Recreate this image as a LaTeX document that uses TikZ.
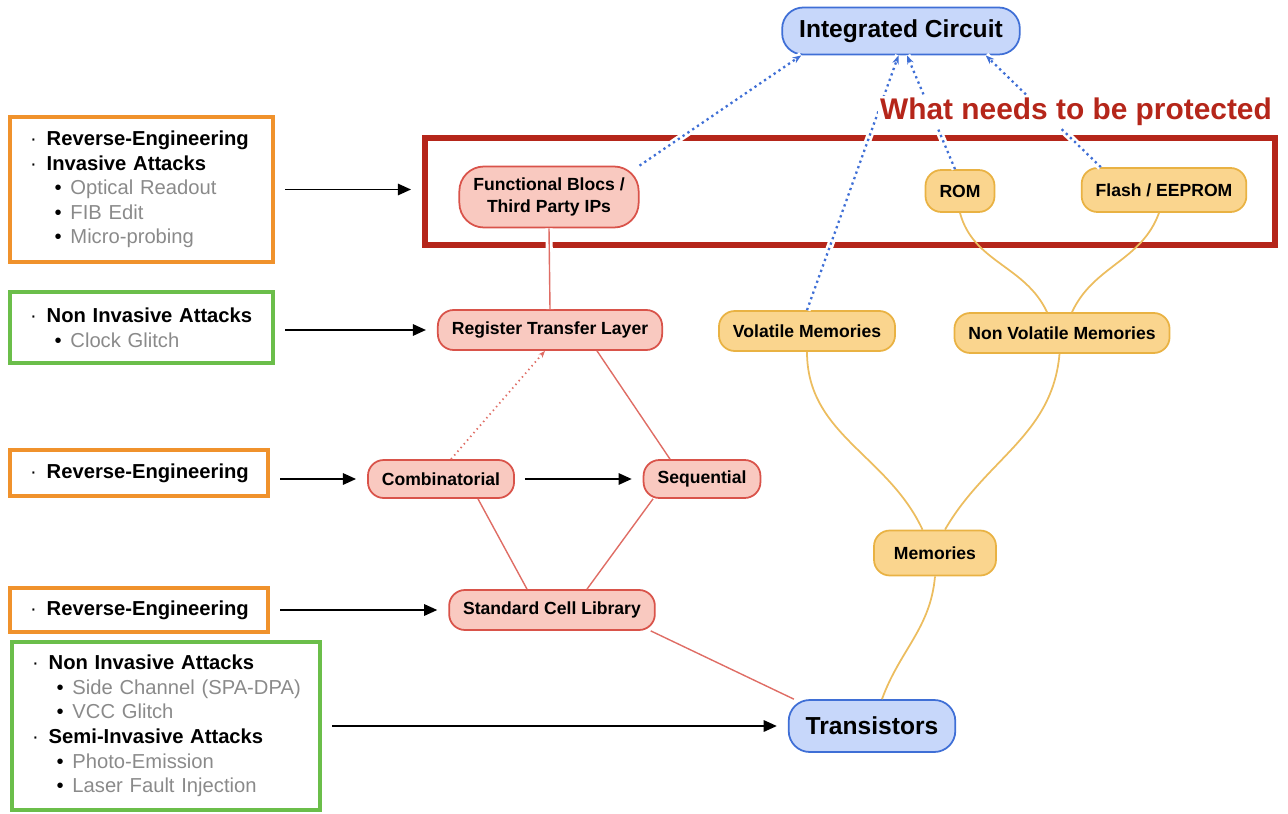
\documentclass[tikz,border=0pt]{standalone}
\usepackage{fontspec}
\setmainfont{Liberation Sans}
\usetikzlibrary{arrows.meta}

\definecolor{pinkfill}{HTML}{F9C9C0}
\definecolor{pinkline}{HTML}{D9534A}
\definecolor{orgfill}{HTML}{FAD58E}
\definecolor{orgline}{HTML}{E9B243}
\definecolor{bluefill}{HTML}{C7D7FA}
\definecolor{blueline}{HTML}{3F6FD6}
\definecolor{frameorange}{HTML}{F0922C}
\definecolor{framegreen}{HTML}{6BBE4A}
\definecolor{protred}{HTML}{B5261A}
\definecolor{itemgray}{HTML}{8A8A8A}

\newcommand{\attk}[1]{\makebox[9.5pt][l]{·}\mbox{\textbf{#1}}}
\newcommand{\subattk}[1]{\hspace*{14pt}\makebox[9pt][l]{•}\mbox{\color{itemgray}#1}}

\begin{document}
\begin{tikzpicture}[x=0.02cm, y=-0.02cm,
    blocco/.style={draw, rounded corners=9pt, line width=1pt, font=\bfseries, inner xsep=0.28cm, minimum height=0.8cm, align=center},
    rosso/.style={blocco, draw=pinkline, fill=pinkfill},
    giallo/.style={blocco, draw=orgline, fill=orgfill},
    blu/.style={blocco, draw=blueline, fill=bluefill, font=\fontsize{14}{17}\selectfont\bfseries, inner xsep=0.34cm, rounded corners=12pt},
    cornice/.style={draw, line width=2.5pt, inner xsep=0.4cm, font=\fontsize{11.5}{14}\selectfont, align=left},
    alone/.style={preaction={draw=white, line width=4pt, solid, -}},
    attacco/.style={-{Triangle[length=7.5pt,width=6.5pt]}, line width=1.1pt, shorten <=0.2cm, shorten >=0.22cm},
    puntiblu/.style={alone, blueline, dotted, line width=1.3pt, -{Stealth[length=5pt]}},
    filorosso/.style={pinkline!85, line width=0.8pt},
    filogiallo/.style={orgline!85, line width=1pt}]
    \useasboundingbox (0,0) rectangle (1288,814);

    % Cornice rossa
    \node[draw=protred, line width=3.5pt, minimum width=17cm, minimum height=2.14cm] (prot) at (850,191.5) {};

    % Nodi
    \node[blu, minimum height=0.94cm] (ic) at (901,31) {Integrated Circuit};
    \node[rosso, minimum height=1.22cm, rounded corners=14pt] (fb) at (549,197) {Functional Blocs /\\Third Party IPs};
    \node[giallo, minimum height=0.84cm] (rom) at (960,191) {ROM};
    \node[giallo, minimum height=0.88cm] (flash) at (1164,190) {Flash / EEPROM};
    \node[rosso] (rtl) at (550,330) {Register Transfer Layer};
    \node[giallo] (vm) at (807,331) {Volatile Memories};
    \node[giallo] (nvm) at (1062,333) {Non Volatile Memories};
    \node[rosso, minimum height=0.76cm] (comb) at (441,479) {Combinatorial};
    \node[rosso, minimum height=0.76cm] (seq) at (702,479) {Sequential};
    \node[giallo, minimum height=0.9cm, inner xsep=0.4cm] (mem) at (935,553) {Memories};
    \node[rosso] (scl) at (552,610) {Standard Cell Library};
    \node[blu, minimum height=1.04cm] (tr) at (872,726) {Transistors};

    % Riquadri degli attacchi
    \node[cornice, draw=frameorange, text width=4.46cm, minimum height=2.9cm] (box1) at (141.5,189.5)
        {\attk{Reverse-Engineering}\\\attk{Invasive Attacks}\\\subattk{Optical Readout}\\\subattk{FIB Edit}\\\subattk{Micro-probing}};
    \node[cornice, draw=framegreen, text width=4.46cm, minimum height=1.42cm] (box2) at (141.5,327.5)
        {\attk{Non Invasive Attacks}\\\subattk{Clock Glitch}};
    \node[cornice, draw=frameorange, text width=4.36cm, minimum height=0.92cm] (box3) at (139,473)
        {\attk{Reverse-Engineering}};
    \node[cornice, draw=frameorange, text width=4.36cm, minimum height=0.88cm] (box4) at (139,610)
        {\attk{Reverse-Engineering}};
    \node[cornice, draw=framegreen, text width=5.36cm, minimum height=3.36cm] (box5) at (166,726)
        {\attk{Non Invasive Attacks}\\\subattk{Side Channel (SPA-DPA)}\\\subattk{VCC Glitch}\\\attk{Semi-Invasive Attacks}\\\subattk{Photo-Emission}\\\subattk{Laser Fault Injection}};

    % Frecce verso il circuito
    \draw[puntiblu] (fb.north east) -- ([xshift=0.4cm]ic.south west);
    \draw[puntiblu] (vm.north) -- ([xshift=-0.05cm]ic.south);
    \draw[puntiblu] ([xshift=-0.1cm]rom.north) -- ([xshift=0.12cm]ic.south);
    \draw[puntiblu] ([xshift=0.4cm]flash.north west) -- ([xshift=-0.7cm]ic.south east);
    \node[font=\fontsize{17}{20}\selectfont\bfseries, text=protred, fill=white, inner sep=1pt] (titolo) at (1076,112) {What needs to be protected};

    % Gerarchia logica
    \draw[filorosso, alone] (fb.south) -- (rtl.north);
    \draw[filorosso, dotted, line width=1pt, -{Stealth[length=4pt]}] ([xshift=0.2cm]comb.north) -- ([xshift=-0.1cm]rtl.south);
    \draw[filorosso] ([xshift=0.94cm]rtl.south) -- ([xshift=-0.64cm]seq.north);
    \draw[filorosso] ([xshift=0.74cm]comb.south) -- ([xshift=-0.5cm]scl.north);
    \draw[filorosso] ([xshift=-0.98cm]seq.south) -- ([xshift=0.7cm]scl.north);
    \draw[filorosso] ([xshift=-0.1cm]scl.south east) -- ([xshift=0.12cm]tr.north west);

    % Gerarchia memorie
    \draw[filogiallo] (rom.south) to[out=-75, in=115] ([xshift=-0.3cm]nvm.north);
    \draw[filogiallo] ([xshift=-0.1cm]flash.south) to[out=-110, in=65] ([xshift=0.2cm]nvm.north);
    \draw[filogiallo] (vm.south) to[out=-90, in=115] ([xshift=-0.25cm]mem.north);
    \draw[filogiallo] ([xshift=-0.05cm]nvm.south) to[out=-95, in=60] ([xshift=0.2cm]mem.north);
    \draw[filogiallo] (mem.south) to[out=-95, in=70] ([xshift=0.2cm]tr.north);

    % Attacchi
    \draw[attacco] (box1.east) -- (box1.east -| prot.west);
    \draw[attacco] (box2.east |- rtl.west) -- (rtl.west);
    \draw[attacco] (box3.east |- comb.west) -- (comb.west);
    \draw[attacco] (comb) -- (seq);
    \draw[attacco] (box4.east |- scl.west) -- (scl.west);
    \draw[attacco] (box5.east |- tr.west) -- (tr.west);
\end{tikzpicture}
\end{document}
